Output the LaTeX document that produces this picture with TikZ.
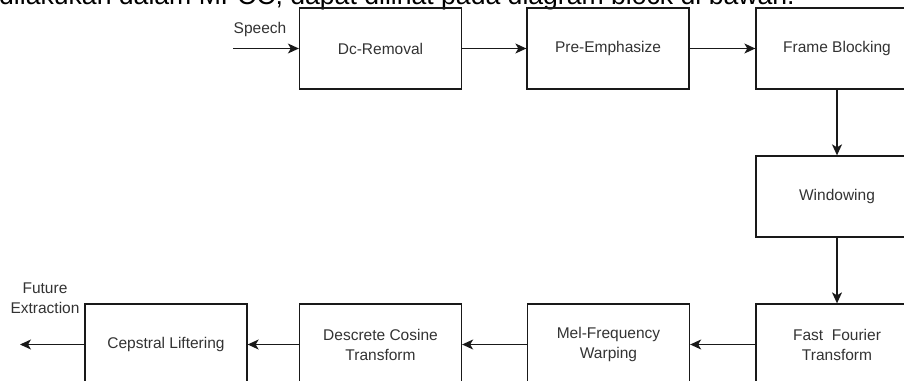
\documentclass[tikz,border=0pt]{standalone}
\usepackage{fontspec}
\setmainfont{Liberation Sans}
\usetikzlibrary{arrows.meta}
\begin{document}
\begin{tikzpicture}[x=1pt,y=-1pt,
  blk/.style={draw=black!90, line width=1.3pt, minimum width=162pt, minimum height=81pt,
    inner sep=0pt, align=center, text=black!80, font=\fontsize{15.5}{20}\selectfont},
  lbl/.style={inner sep=0pt, align=center, text=black!80, font=\fontsize{15.5}{20}\selectfont},
  conn/.style={draw=black!90, line width=1.3pt, -{Stealth[length=11pt,width=10pt,inset=3pt]}}]
\useasboundingbox (0,0) rectangle (904,380);
\clip (0,0) rectangle (904,380);
\fill[white] (0,0) rectangle (904,380);
\node[anchor=base west, inner sep=0pt, font=\fontsize{26.6}{30}\selectfont] (cap) at (-1,5)
  {dilakukan dalam MFCC, dapat dilihat pada diagram block di bawah.};
\node[blk] (dc) at (380.5,48.5) {Dc-Removal};
\node[blk] (pre) at (608,48.5) {Pre-Emphasize};
\node[blk] (fb) at (837,48.5) {Frame Blocking};
\node[blk] (win) at (837,196.5) {Windowing};
\node[blk] (fft) at (837,344.5) {Fast\ \ Fourier\\Transform};
\node[blk] (mel) at (608.5,344.5) {Mel-Frequency\\Warping};
\node[blk] (dct) at (380.5,344.5) {Descrete Cosine\\Transform};
\node[blk] (cep) at (166,344.5) {Cepstral Liftering};
\coordinate (sin) at (233,48.5);
\coordinate (fout) at (20,344.5);
\node[lbl, anchor=base] (sp) at (260,33) {Speech};
\node[lbl, anchor=base] (fe) at (45,313) {Future\\Extraction};
\draw[conn] (sin) -- (dc.west);
\draw[conn] (dc.east) -- (pre.west);
\draw[conn] (pre.east) -- (fb.west);
\draw[conn] (fb.south) -- (win.north);
\draw[conn] (win.south) -- (fft.north);
\draw[conn] (fft.west) -- (mel.east);
\draw[conn] (mel.west) -- (dct.east);
\draw[conn] (dct.west) -- (cep.east);
\draw[conn] (cep.west) -- (fout);
\end{tikzpicture}
\end{document}
